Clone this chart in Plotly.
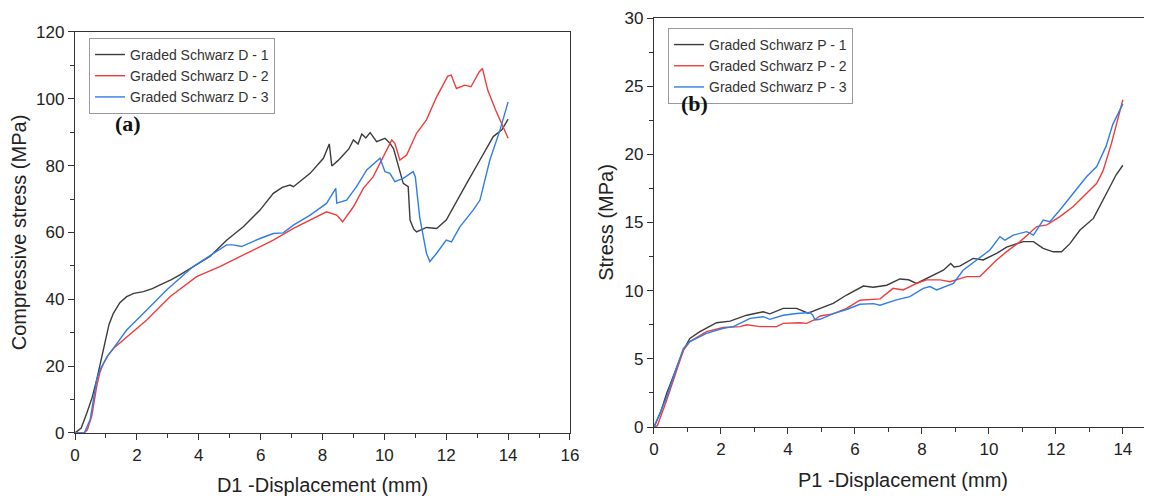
import plotly.graph_objects as go

# ---------- Panel (a): Graded Schwarz D ----------
d1_x = [0, 0.2, 0.38, 0.55, 0.7, 0.85, 0.97, 1.1, 1.24, 1.45, 1.67, 1.9, 2.21, 2.5, 2.75, 3.1, 3.39, 3.82,
        4.36, 4.9, 5.44, 5.98, 6.41, 6.7, 6.95, 7.06, 7.3, 7.6, 8.03, 8.22, 8.3, 8.5, 8.67, 8.85, 9.0, 9.15,
        9.27, 9.4, 9.54, 9.65, 9.75, 10.02, 10.18, 10.3, 10.4, 10.61, 10.77, 10.83, 10.95, 11.04, 11.36,
        11.69, 12.0, 12.23, 12.66, 13.09, 13.52, 13.8, 14.0]
d1_y = [0, 1.5, 5.9, 10.5, 15.9, 22.5, 27.8, 32.5, 35.8, 39, 40.8, 41.8, 42.3, 43.2, 44.3, 45.8, 47.3, 49.8,
        52.8, 57.7, 61.7, 66.7, 71.7, 73.5, 74.2, 73.7, 75.5, 77.7, 82.2, 86.5, 79.9, 81.5, 83.2, 85, 87.7, 86.5,
        89.5, 88.3, 89.9, 88.5, 87.2, 88.2, 86.7, 85, 81.7, 74.7, 73.7, 63.7, 61, 60.2, 61.5,
        61.2, 63.7, 67.7, 74.7, 81.7, 88.7, 90.7, 93.9]

d2_x = [0, 0.3, 0.4, 0.54, 0.7, 0.8, 0.92, 1.05, 1.24, 1.67, 2.32, 3.07, 3.93, 4.68, 5.22, 5.76, 6.41, 7.06,
        7.7, 8.13, 8.46, 8.65, 9.0, 9.32, 9.64, 9.97, 10.24, 10.34, 10.5, 10.72, 11.04, 11.36, 11.69, 12.05,
        12.16, 12.33, 12.6, 12.8, 13.07, 13.17, 13.34, 13.6, 13.82, 14.0]
d2_y = [0, 0, 1, 5, 13.9, 18, 20.8, 23, 25.3, 28.8, 33.8, 40.8, 46.8, 49.8, 52.3, 54.8, 57.7, 61.2,
        64.2, 66.2, 65.2, 63.2, 67.7, 73.2, 76.7, 82.7, 87.7, 86.7, 81.7, 83.2, 89.7, 93.7, 100.6, 106.8,
        107.1, 103.1, 104.1, 103.6, 108.1, 109.1, 102.6, 96.6, 91.7, 88.2]

d3_x = [0, 0.3, 0.49, 0.6, 0.7, 0.8, 0.92, 1.05, 1.24, 1.67, 2.32, 2.96, 3.82, 4.47, 4.9, 5.11, 5.38, 5.98,
        6.41, 6.73, 7.06, 7.6, 8.13, 8.43, 8.46, 8.78, 9.1, 9.43, 9.86, 10.02, 10.18, 10.34, 10.61, 10.93,
        11.0, 11.14, 11.36, 11.47, 11.69, 12.0, 12.17, 12.44, 12.87, 13.09, 13.41, 13.74, 14.0]
d3_y = [0, 0, 4, 10, 15.9, 18.8, 20.8, 23, 25.3, 30.8, 36.8, 42.8, 49.8, 53.8, 56.3, 56.3, 55.8, 58.2,
        59.7, 59.9, 62.2, 65.2, 68.7, 73.2, 68.8, 69.7, 73.7, 78.7, 82.2, 78.2, 77.7, 75.2, 76.2, 78.2,
        76.7, 64.7, 53.8, 51.3, 53.8, 57.7, 57.2, 61.7, 66.7, 69.7, 81.7, 90.7, 99.1]

# ---------- Panel (b): Graded Schwarz P ----------
p1_x = [0, 0.2, 0.38, 0.55, 0.68, 0.88, 1.07, 1.37, 1.87, 2.27, 2.77, 3.26, 3.46, 3.86, 4.26, 4.6, 4.96,
        5.35, 5.75, 6.25, 6.55, 6.95, 7.34, 7.6, 7.84, 8.24, 8.64, 8.86, 8.96, 9.13, 9.53, 9.83, 10.23,
        10.53, 11.03, 11.33, 11.62, 11.92, 12.17, 12.42, 12.72, 13.12, 13.42, 13.61, 13.8, 14.0]
p1_y = [0, 1.1, 2.47, 3.6, 4.4, 5.65, 6.5, 7.0, 7.65, 7.77, 8.2, 8.45, 8.3, 8.7, 8.7, 8.35, 8.7,
        9.07, 9.68, 10.34, 10.25, 10.4, 10.86, 10.8, 10.53, 11.03, 11.5, 12.0, 11.74, 11.8, 12.37, 12.25, 12.74,
        13.2, 13.6, 13.6, 13.1, 12.85, 12.85, 13.45, 14.45, 15.3, 16.65, 17.6, 18.5, 19.2]

p2_x = [0, 0.1, 0.38, 0.68, 0.88, 1.07, 1.57, 2.07, 2.57, 2.77, 3.16, 3.66, 3.86, 4.36, 4.56, 4.78, 4.96,
        5.35, 5.75, 6.15, 6.45, 6.75, 7.14, 7.44, 7.84, 8.14, 8.54, 8.84, 9.33, 9.73, 10.23, 10.53, 10.93,
        11.43, 11.73, 12.12, 12.52, 12.92, 13.22, 13.41, 13.66, 14.0]
p2_y = [0, 0.1, 1.98, 4.2, 5.65, 6.26, 7.0, 7.3, 7.36, 7.5, 7.36, 7.36, 7.6, 7.65, 7.6, 7.85, 8.14,
        8.3, 8.7, 9.3, 9.35, 9.4, 10.17, 10.05, 10.54, 10.79, 10.79, 10.66, 11.03, 11.03, 12.25, 12.86, 13.6,
        14.7, 14.82, 15.43, 16.17, 17.15, 17.88, 18.8, 20.8, 24.0]

p3_x = [0, 0.38, 0.68, 0.88, 1.07, 1.57, 2.07, 2.37, 2.87, 3.26, 3.46, 3.86, 4.26, 4.66, 4.74, 4.81, 4.96,
        5.35, 5.75, 6.15, 6.55, 6.75, 7.24, 7.64, 8.04, 8.24, 8.44, 8.94, 9.23, 9.63, 10.03, 10.33, 10.48,
        10.73, 11.13, 11.33, 11.62, 11.82, 12.12, 12.52, 12.92, 13.22, 13.5, 13.7, 14.0]
p3_y = [0, 2.2, 4.4, 5.77, 6.26, 6.87, 7.24, 7.36, 7.97, 8.09, 7.9, 8.2, 8.32, 8.4, 8.2, 7.85, 7.9,
        8.32, 8.62, 9.0, 9.05, 8.93, 9.32, 9.56, 10.17, 10.3, 10.05, 10.54, 11.5, 12.25, 12.98, 13.96, 13.7,
        14.08, 14.33, 14.08, 15.18, 15.06, 15.92, 17.15, 18.37, 19.1, 20.6, 22.2, 23.7]

names_a = ["Graded Schwarz D - 1", "Graded Schwarz D - 2", "Graded Schwarz D - 3"]
names_b = ["Graded Schwarz P - 1", "Graded Schwarz P - 2", "Graded Schwarz P - 3"]
colors = ["#3c3c3c", "#f03c3c", "#2f7ee6"]

FONT = "Liberation Sans, Arial, sans-serif"

fig = go.Figure()
for (xs, ys), nm, c in zip([(d1_x, d1_y), (d2_x, d2_y), (d3_x, d3_y)], names_a, colors):
    fig.add_trace(go.Scatter(x=xs, y=ys, name=nm, mode="lines", line=dict(color=c, width=1.4),
                             xaxis="x", yaxis="y", legend="legend"))
for (xs, ys), nm, c in zip([(p1_x, p1_y), (p2_x, p2_y), (p3_x, p3_y)], names_b, colors):
    fig.add_trace(go.Scatter(x=xs, y=ys, name=nm, mode="lines", line=dict(color=c, width=1.4),
                             xaxis="x2", yaxis="y2", legend="legend2"))

axis_common = dict(showgrid=False, zeroline=False, showline=True, linecolor="#333", linewidth=1.3,
                   ticks="outside", ticklen=6, tickwidth=1.2, tickcolor="#333",
                   tickfont=dict(family=FONT, size=17, color="#222"), automargin=False)

# The page body adds an 8px offset, so the figure is 1144x488 and margins are reduced by 8px.
fig.update_layout(
    width=1144, height=488,
    margin=dict(l=67, r=0, t=10, b=63),
    paper_bgcolor="white", plot_bgcolor="white",
    font=dict(family=FONT, color="#222"),
    xaxis=dict(domain=[0, 0.4596], range=[0, 16], dtick=2, mirror=True,
               minor=dict(dtick=1, ticks="outside", ticklen=4, tickcolor="#333"),
               title=dict(text="D1 -Displacement (mm)", font=dict(family=FONT, size=20, color="#222"), standoff=18),
               anchor="y", **axis_common),
    yaxis=dict(domain=[0, 0.9663], range=[0, 120], dtick=20, mirror=True,
               minor=dict(dtick=10, ticks="outside", ticklen=4, tickcolor="#333"),
               title=dict(text="Compressive stress (MPa)", font=dict(family=FONT, size=20, color="#222"), standoff=4),
               anchor="x", **axis_common),
    xaxis2=dict(domain=[0.5376, 1], range=[0, 14.87], tickvals=[0, 2, 4, 6, 8, 10, 12, 14], mirror=True,
                minor=dict(dtick=1, ticks="outside", ticklen=4, tickcolor="#333"),
                title=dict(text="P1 -Displacement (mm)", font=dict(family=FONT, size=20, color="#222"), standoff=15),
                anchor="y2", **axis_common),
    yaxis2=dict(domain=[0.01446, 1], range=[0, 30], dtick=5, mirror=False,
                minor=dict(dtick=2.5, ticks="outside", ticklen=4, tickcolor="#333"),
                title=dict(text="Stress (MPa)", font=dict(family=FONT, size=20, color="#222"), standoff=5),
                anchor="x2", **axis_common),
    legend=dict(x=0.013, y=0.952, xanchor="left", yanchor="top", bgcolor="white",
                bordercolor="#9a9a9a", borderwidth=1, font=dict(family=FONT, size=14, color="#333"),
                itemwidth=30, tracegroupgap=0),
    legend2=dict(x=0.5506, y=0.976, xanchor="left", yanchor="top", bgcolor="white",
                 bordercolor="#9a9a9a", borderwidth=1, font=dict(family=FONT, size=14, color="#333"),
                 itemwidth=30, tracegroupgap=0),
    showlegend=True,
)

fig.add_annotation(x=1.71, y=92.5, xref="x", yref="y", text="<b>(a)</b>", showarrow=False,
                   font=dict(family="Liberation Serif, Times New Roman, serif", size=22, color="#111"))
fig.add_annotation(x=1.22, y=23.7, xref="x2", yref="y2", text="<b>(b)</b>", showarrow=False,
                   font=dict(family="Liberation Serif, Times New Roman, serif", size=22, color="#111"))

fig.write_html("out.html")
